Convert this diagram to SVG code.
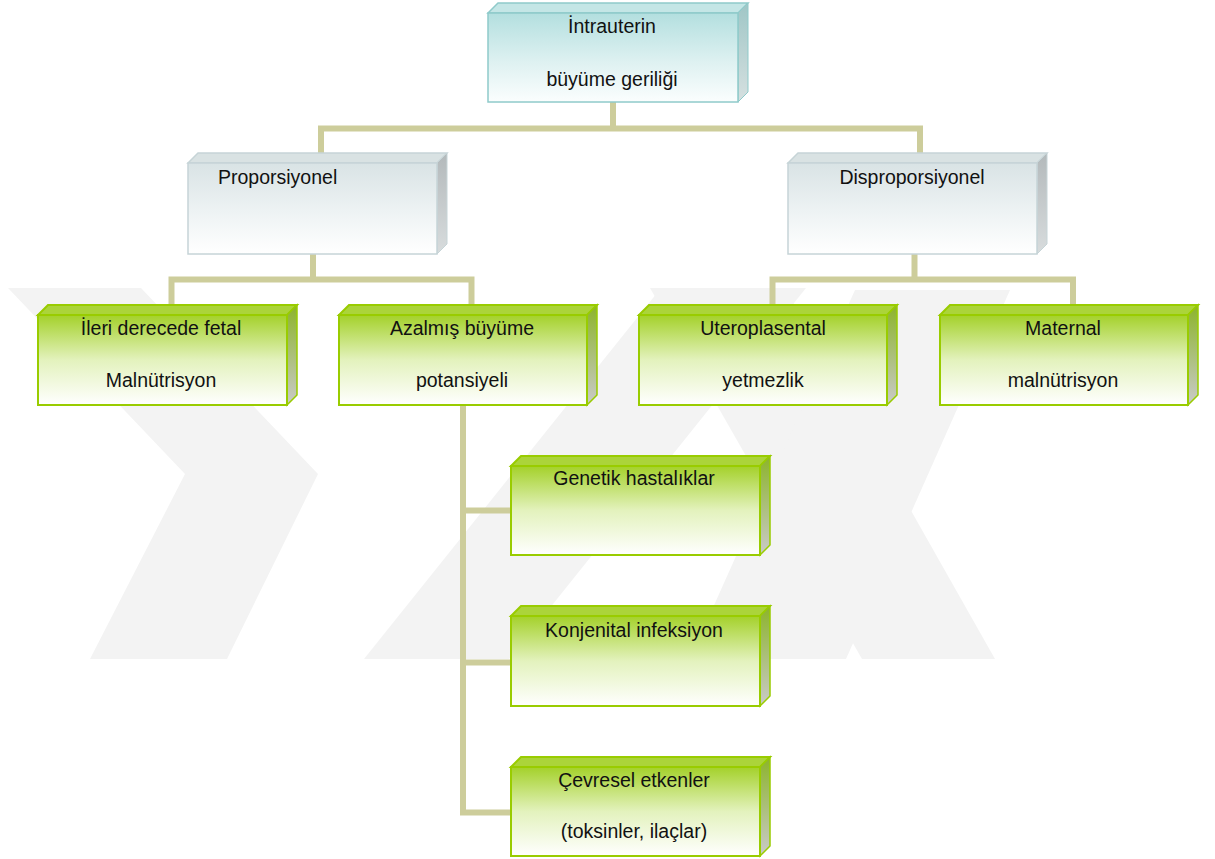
<svg xmlns="http://www.w3.org/2000/svg" width="1215" height="859" viewBox="0 0 1215 859">
<defs>
<linearGradient id="gTealFront" x1="0" y1="0" x2="0" y2="1"><stop offset="0" stop-color="#b3dfdf"/><stop offset="0.55" stop-color="#def1f1"/><stop offset="1" stop-color="#fbfefe"/></linearGradient>
<linearGradient id="gTealSide" x1="0" y1="0" x2="0" y2="1"><stop offset="0" stop-color="#9fc6c6"/><stop offset="1" stop-color="#d6e0e0"/></linearGradient>
<linearGradient id="gGrayFront" x1="0" y1="0" x2="0" y2="1"><stop offset="0" stop-color="#d9e3e5"/><stop offset="0.55" stop-color="#eef3f4"/><stop offset="1" stop-color="#ffffff"/></linearGradient>
<linearGradient id="gGraySide" x1="0" y1="0" x2="0" y2="1"><stop offset="0" stop-color="#b3b9bb"/><stop offset="1" stop-color="#d8dcdd"/></linearGradient>
<linearGradient id="gGreenFront" x1="0" y1="0" x2="0" y2="1"><stop offset="0" stop-color="#a4d12a"/><stop offset="0.5" stop-color="#e3f2bd"/><stop offset="1" stop-color="#ffffff"/></linearGradient>
<linearGradient id="gGreenSide" x1="0" y1="0" x2="0" y2="1"><stop offset="0" stop-color="#8cb42a"/><stop offset="1" stop-color="#cacaca"/></linearGradient>
</defs>
<style>
.wm{fill:#f3f3f3}
.conn{fill:none;stroke:#cdcd9b;stroke-width:6;stroke-linejoin:miter}
.teal .front{fill:url(#gTealFront);stroke:#8fcaca;stroke-width:1.5}
.teal .top{fill:#c4e6e6;stroke:#8fcaca;stroke-width:1.5}
.teal .side{fill:url(#gTealSide);stroke:#8fcaca;stroke-width:1}
.gray .front{fill:url(#gGrayFront);stroke:#c6d4d7;stroke-width:1.5}
.gray .top{fill:#d9e2e3;stroke:#c6d4d7;stroke-width:1.5}
.gray .side{fill:url(#gGraySide);stroke:#c6d4d7;stroke-width:1}
.green .front{fill:url(#gGreenFront);stroke:#99cc00;stroke-width:2}
.green .top{fill:#abd43a;stroke:#99cc00;stroke-width:2}
.green .side{fill:url(#gGreenSide);stroke:#99cc00;stroke-width:1.5}
text{font-family:"Liberation Sans",Arial,sans-serif;font-size:19.5px;fill:#111111;text-anchor:middle}
</style>
<g id="watermark">
<polygon class="wm" points="8,288 141,288 318,474 227,659 90,659 185,474"/>
<polygon class="wm" points="364,659 509,659 806,288 661,288"/>
<polygon class="wm" points="650,288 785,288 995,659 862,659"/>
<polygon class="wm" points="690,659 846,659 1010,290 855,290"/>
</g>
<g id="connectors">
<path class="conn" d="M613,102 V128.5 M321,153 V128.5 H920 V153"/>
<path class="conn" d="M313,254 V279.5 M171.5,305 V279.5 H471.5 V305"/>
<path class="conn" d="M914.5,254 V279.5 M772.5,305 V279.5 H1073 V305"/>
<path class="conn" d="M463,405 V812.5 H511 M463,510.5 H511 M463,662.5 H511"/>
</g>
<g id="n-intrauterin" class="teal">
<polygon class="top" points="488,13 498,3 748,3 738,13"/>
<polygon class="side" points="738,13 748,3 748,92 738,102"/>
<rect class="front" x="488" y="13" width="250" height="89"/>
<text x="612" y="33">İntrauterin</text>
<text x="612" y="86">büyüme geriliği</text>
</g>
<g id="n-proporsiyonel" class="gray">
<polygon class="top" points="188,163 198,153 447,153 437,163"/>
<polygon class="side" points="437,163 447,153 447,244 437,254"/>
<rect class="front" x="188" y="163" width="249" height="91"/>
<text x="218" y="184" style="text-anchor:start">Proporsiyonel</text>
</g>
<g id="n-disproporsiyonel" class="gray">
<polygon class="top" points="788,163 798,153 1047,153 1037,163"/>
<polygon class="side" points="1037,163 1047,153 1047,244 1037,254"/>
<rect class="front" x="788" y="163" width="249" height="91"/>
<text x="912" y="184">Disproporsiyonel</text>
</g>
<g id="n-ileri" class="green">
<polygon class="top" points="38,315 48,305 297,305 287,315"/>
<polygon class="side" points="287,315 297,305 297,395 287,405"/>
<rect class="front" x="38" y="315" width="249" height="90"/>
<text x="161" y="335">İleri derecede fetal</text>
<text x="161" y="387">Malnütrisyon</text>
</g>
<g id="n-azalmis" class="green">
<polygon class="top" points="339,315 349,305 597,305 587,315"/>
<polygon class="side" points="587,315 597,305 597,395 587,405"/>
<rect class="front" x="339" y="315" width="248" height="90"/>
<text x="462" y="335">Azalmış büyüme</text>
<text x="462" y="387">potansiyeli</text>
</g>
<g id="n-utero" class="green">
<polygon class="top" points="639,315 649,305 897,305 887,315"/>
<polygon class="side" points="887,315 897,305 897,395 887,405"/>
<rect class="front" x="639" y="315" width="248" height="90"/>
<text x="763" y="335">Uteroplasental</text>
<text x="763" y="387">yetmezlik</text>
</g>
<g id="n-maternal" class="green">
<polygon class="top" points="940,315 950,305 1198,305 1188,315"/>
<polygon class="side" points="1188,315 1198,305 1198,395 1188,405"/>
<rect class="front" x="940" y="315" width="248" height="90"/>
<text x="1063" y="335">Maternal</text>
<text x="1063" y="387">malnütrisyon</text>
</g>
<g id="n-genetik" class="green">
<polygon class="top" points="511,466 521,456 770,456 760,466"/>
<polygon class="side" points="760,466 770,456 770,545 760,555"/>
<rect class="front" x="511" y="466" width="249" height="89"/>
<text x="634" y="485">Genetik hastalıklar</text>
</g>
<g id="n-konjenital" class="green">
<polygon class="top" points="511,616 521,606 770,606 760,616"/>
<polygon class="side" points="760,616 770,606 770,696 760,706"/>
<rect class="front" x="511" y="616" width="249" height="90"/>
<text x="634" y="637">Konjenital infeksiyon</text>
</g>
<g id="n-cevresel" class="green">
<polygon class="top" points="511,767 521,757 770,757 760,767"/>
<polygon class="side" points="760,767 770,757 770,846 760,856"/>
<rect class="front" x="511" y="767" width="249" height="89"/>
<text x="634" y="787">Çevresel etkenler</text>
<text x="634" y="838">(toksinler, ilaçlar)</text>
</g>
</svg>
